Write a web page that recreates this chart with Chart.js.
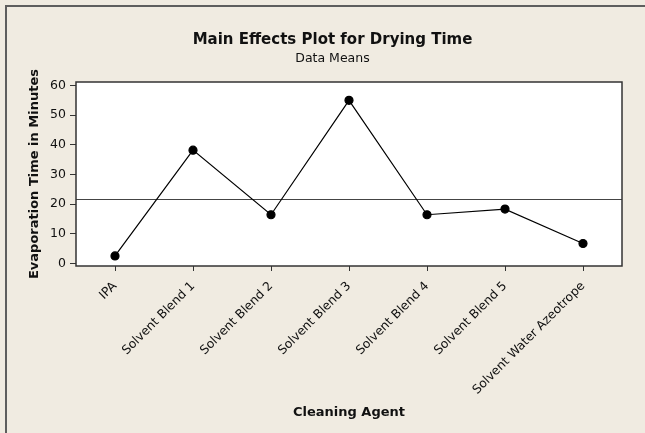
<!DOCTYPE html>
<html>
<head>
<meta charset="utf-8">
<script src="https://cdn.jsdelivr.net/npm/chart.js@4"></script>
<style>
    html, body { margin: 0; padding: 0; width: 645px; height: 433px; overflow: hidden; background: #F0EBE1; }
    #frame { position: absolute; left: 5px; top: 5px; width: 700px; height: 500px; border: 2px solid #5e5e5e; }
    #wrap { position: absolute; left: 0; top: 0; width: 665px; height: 433px; }
</style>
</head>
<body>
<div id="frame"></div>
<div id="wrap"><canvas id="effectsChart"></canvas></div>
<script>
// --- Data ---
const agents = ['IPA', 'Solvent Blend 1', 'Solvent Blend 2', 'Solvent Blend 3',
    'Solvent Blend 4', 'Solvent Blend 5', 'Solvent Water Azeotrope'];
const meanTimes = [2.5, 38.2, 16.4, 55.0, 16.4, 18.3, 6.7];
const grandMean = 21.8;
const yTicks = [0, 10, 20, 30, 40, 50, 60];

const FONT = 'DejaVu Sans';
const TEXT = '#111';

// --- Plugins ---

// White plot area, frame around it and the overall-mean reference line
const plotDecor = {
    id: 'plotDecor',
    beforeDatasetsDraw(chart) {
        const { ctx, chartArea: a, scales: { y } } = chart;
        ctx.save();
        ctx.fillStyle = '#fff';
        ctx.fillRect(a.left, a.top, a.right - a.left, a.bottom - a.top);
        ctx.strokeStyle = '#444';
        ctx.lineWidth = 1;
        const yMean = Math.round(y.getPixelForValue(grandMean)) + 0.5;
        ctx.beginPath();
        ctx.moveTo(a.left, yMean);
        ctx.lineTo(a.right, yMean);
        ctx.stroke();
        ctx.strokeStyle = '#333';
        ctx.lineWidth = 1.5;
        ctx.strokeRect(a.left, a.top, a.right - a.left, a.bottom - a.top);
        ctx.restore();
    }
};

// --- Chart ---

new Chart(document.getElementById('effectsChart'), {
    type: 'line',
    data: {
        labels: agents,
        datasets: [{
            data: meanTimes,
            borderColor: '#000',
            borderWidth: 1.2,
            pointRadius: 4,
            pointBackgroundColor: '#000',
            pointBorderColor: '#000',
            tension: 0
        }]
    },
    options: {
        responsive: true,
        maintainAspectRatio: false,
        animation: false,
        plugins: {
            legend: { display: false },
            tooltip: { enabled: false },
            title: {
                display: true,
                text: 'Main Effects Plot for Drying Time',
                color: TEXT,
                font: { family: FONT, size: 15, weight: 'bold' },
                padding: { top: 31, bottom: 2 }
            },
            subtitle: {
                display: true,
                text: 'Data Means',
                color: TEXT,
                font: { family: FONT, size: 12.5 },
                padding: { top: 0.5, bottom: 15.5 }
            }
        },
        scales: {
            x: {
                offset: true,
                afterFit: (scale) => { scale.height = 167; },
                grid: { drawOnChartArea: false, offset: false, color: '#333', tickLength: 5 },
                border: { display: false },
                ticks: {
                    color: TEXT,
                    font: { family: FONT, size: 12.3 },
                    minRotation: 45,
                    maxRotation: 45,
                    padding: 8,
                    autoSkip: false
                },
                title: {
                    display: true,
                    text: 'Cleaning Agent',
                    color: TEXT,
                    font: { family: FONT, size: 13, weight: 'bold' },
                    padding: { top: 0, bottom: 13 }
                }
            },
            y: {
                min: -0.9,
                max: 61.2,
                afterFit: (scale) => { scale.width = 76; },
                afterBuildTicks: (scale) => { scale.ticks = yTicks.map(v => ({ value: v })); },
                grid: { drawOnChartArea: false, color: '#333', tickLength: 6 },
                border: { display: false },
                ticks: {
                    color: TEXT,
                    font: { family: FONT, size: 12.5 },
                    padding: 4
                },
                title: {
                    display: true,
                    text: 'Evaporation Time in Minutes',
                    color: TEXT,
                    font: { family: FONT, size: 13, weight: 'bold' },
                    padding: { top: 27, bottom: 0 }
                }
            },
            // empty right-hand margin so the titles centre on the whole frame
            spacer: {
                position: 'right',
                afterFit: (scale) => { scale.width = 43; },
                grid: { display: false },
                border: { display: false },
                ticks: { display: false }
            }
        }
    },
    plugins: [plotDecor]
});
</script>
</body>
</html>
